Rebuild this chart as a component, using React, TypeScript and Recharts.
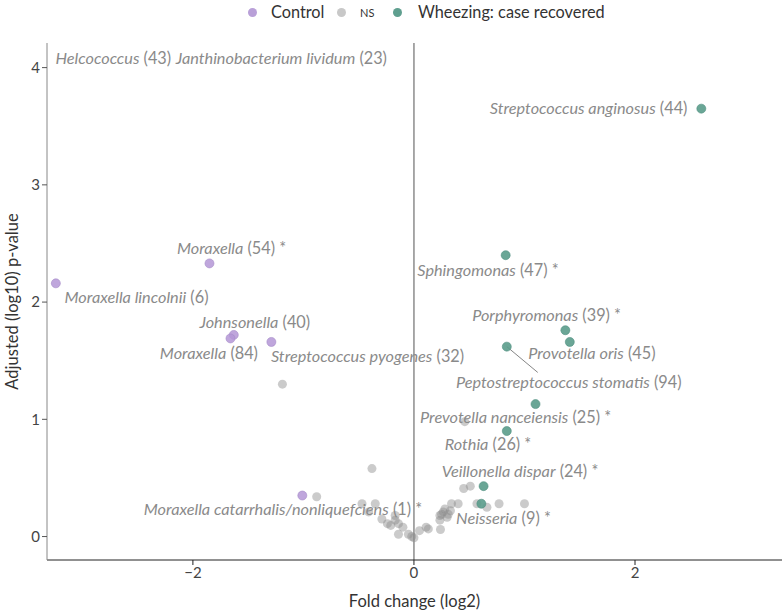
import React from 'react';
import { ScatterChart, Scatter, XAxis, YAxis, ReferenceLine } from 'recharts';

// Fold change (log2) and adjusted (log10) p-value
const controlPoints = [
  { x: -3.24, y: 2.16 },
  { x: -1.85, y: 2.33 },
  { x: -1.63, y: 1.72 },
  { x: -1.66, y: 1.69 },
  { x: -1.29, y: 1.66 },
  { x: -1.01, y: 0.35 },
];

const wheezingPoints = [
  { x: 2.6, y: 3.65 },
  { x: 0.83, y: 2.4 },
  { x: 1.37, y: 1.76 },
  { x: 1.41, y: 1.66 },
  { x: 0.84, y: 1.62 },
  { x: 1.1, y: 1.13 },
  { x: 0.84, y: 0.9 },
  { x: 0.63, y: 0.43 },
  { x: 0.61, y: 0.28 },
];

const nsPoints = [
  { x: -1.19, y: 1.3 },
  { x: -0.38, y: 0.58 },
  { x: -0.88, y: 0.34 },
  { x: 0.46, y: 0.98 },
  { x: 0.45, y: 0.41 },
  { x: 0.51, y: 0.43 },
  { x: -0.47, y: 0.28 },
  { x: -0.35, y: 0.28 },
  { x: -0.41, y: 0.21 },
  { x: -0.29, y: 0.15 },
  { x: -0.24, y: 0.11 },
  { x: -0.21, y: 0.095 },
  { x: -0.17, y: 0.18 },
  { x: -0.17, y: 0.14 },
  { x: -0.14, y: 0.11 },
  { x: -0.1, y: 0.08 },
  { x: -0.14, y: 0.02 },
  { x: -0.05, y: 0.02 },
  { x: -0.02, y: 0.0 },
  { x: 0.0, y: -0.01 },
  { x: 0.05, y: 0.05 },
  { x: 0.11, y: 0.08 },
  { x: 0.13, y: 0.065 },
  { x: 0.24, y: 0.06 },
  { x: 0.235, y: 0.14 },
  { x: 0.235, y: 0.18 },
  { x: 0.265, y: 0.21 },
  { x: 0.3, y: 0.165 },
  { x: 0.28, y: 0.235 },
  { x: 0.33, y: 0.22 },
  { x: 0.25, y: 0.19 },
  { x: 0.31, y: 0.19 },
  { x: 0.34, y: 0.28 },
  { x: 0.4, y: 0.28 },
  { x: 0.57, y: 0.28 },
  { x: 0.66, y: 0.25 },
  { x: 0.77, y: 0.28 },
  { x: 1.0, y: 0.28 },
];

const labelNames = [
  'Helcococcus', 'Janthinobacterium lividum', 'Streptococcus anginosus', 'Moraxella',
  'Moraxella lincolnii', 'Johnsonella', 'Moraxella', 'Streptococcus pyogenes',
  'Sphingomonas', 'Porphyromonas', 'Provotella oris', 'Peptostreptococcus stomatis',
  'Prevotella nanceiensis', 'Rothia', 'Veillonella dispar',
  'Moraxella catarrhalis/nonliquefciens', 'Neisseria',
];
const labelCounts = [43, 23, 44, 54, 6, 40, 84, 32, 47, 39, 45, 94, 25, 26, 24, 1, 9];
const labelStars = [false, false, false, true, false, false, false, false, true, true, false, false, true, true, true, true, true];
// label anchor positions (data coordinates, text centre)
const labelAnchorX = [-2.72, -1.2, 1.58, -1.65, -2.51, -1.44, -1.855, -0.42, 0.67, 1.2, 1.61, 1.4, 0.92, 0.67, 0.96, -1.185, 0.81];
const labelAnchorY = [4.08, 4.08, 3.65, 2.455, 2.045, 1.83, 1.56, 1.535, 2.27, 1.885, 1.56, 1.32, 1.02, 0.785, 0.555, 0.23, 0.155];

const xTicks = [-2, 0, 2];
const yTicks = [0, 1, 2, 3, 4];

const labelData = labelNames.map((n, i) => ({
  x: labelAnchorX[i],
  y: labelAnchorY[i],
  name: n,
  count: labelCounts[i],
  star: labelStars[i],
}));

const FONT = 'Lato, "Noto Sans", sans-serif';

const dot = (fill: string, opacity: number, stroke?: string) => (p: any) => (
  <circle cx={p.cx} cy={p.cy} r={4.5} fill={fill} fillOpacity={opacity} stroke={stroke || 'none'} strokeWidth={0.6} />
);

const labelShape = (p: any) => {
  const d = p.payload;
  return (
    <text x={p.cx} y={p.cy} dy="0.35em" textAnchor="middle" fill="#8a8a8a" fontSize={16.3} fontFamily={FONT}>
      <tspan fontStyle="italic">{d.name}</tspan>
      <tspan>{` (${d.count})${d.star ? ' *' : ''}`}</tspan>
    </text>
  );
};

export default function App() {
  return (
    <div style={{ position: 'absolute', left: 0, top: 0, width: 782, height: 613, background: '#fff', fontFamily: FONT }}>
      <div style={{ position: 'absolute', top: 0, left: 0, width: 782, height: 24, fontSize: 16.3, color: '#333' }}>
        <span style={{ position: 'absolute', left: 248, top: 8, width: 9, height: 9, borderRadius: 5, background: '#b9a0d8' }} />
        <span style={{ position: 'absolute', left: 271, top: 2, lineHeight: '20px' }}>Control</span>
        <span style={{ position: 'absolute', left: 337, top: 8, width: 9, height: 9, borderRadius: 5, background: '#c8c8c8' }} />
        <span style={{ position: 'absolute', left: 360, top: 5, fontSize: 11, lineHeight: '16px' }}>NS</span>
        <span style={{ position: 'absolute', left: 393, top: 8, width: 9, height: 9, borderRadius: 5, background: '#5f9f8f' }} />
        <span style={{ position: 'absolute', left: 418, top: 2, lineHeight: '20px' }}>Wheezing: case recovered</span>
      </div>
      <ScatterChart width={782} height={613} margin={{ top: 43, right: 0, bottom: 0, left: 0 }}>
        <XAxis
          type="number"
          dataKey="x"
          domain={[-3.32, 3.33]}
          allowDataOverflow
          ticks={xTicks}
          tickFormatter={(v: number) => (v < 0 ? `\u2212${Math.abs(v)}` : `${v}`)}
          height={53}
          stroke="#222"
          tickLine={{ stroke: '#222' }}
          tickSize={5}
          tick={{ fill: '#444', fontSize: 15, fontFamily: FONT }}
          label={(props: any) => {
            const vb = props.viewBox;
            return (
              <text x={vb.x + vb.width / 2} y={607} textAnchor="middle" fill="#333" fontSize={16.5} fontFamily={FONT}>
                Fold change (log2)
              </text>
            );
          }}
        />
        <YAxis
          type="number"
          dataKey="y"
          domain={[-0.2, 4.21]}
          allowDataOverflow
          ticks={yTicks}
          width={47}
          stroke="#888"
          tickLine={{ stroke: '#555' }}
          tickSize={5}
          tick={{ fill: '#444', fontSize: 15, fontFamily: FONT }}
          label={(props: any) => {
            const vb = props.viewBox;
            const cy = vb.y + vb.height / 2;
            return (
              <text x={12} y={cy} textAnchor="middle" dy="0.35em" transform={`rotate(-90, 12, ${cy})`} fill="#333" fontSize={16.5} fontFamily={FONT}>
                Adjusted (log10) p-value
              </text>
            );
          }}
        />
        <ReferenceLine x={0} stroke="#8c8c8c" strokeWidth={1.5} />
        <ReferenceLine
          segment={[{ x: 0.84, y: 1.62 }, { x: 1.12, y: 1.4 }]}
          stroke="#666"
          strokeWidth={0.8}
        />
        <Scatter data={nsPoints} isAnimationActive={false} shape={dot('#8c8c8c', 0.45)} />
        <Scatter data={controlPoints} isAnimationActive={false} shape={dot('#b497d6', 0.85, '#a58ac8')} />
        <Scatter data={wheezingPoints} isAnimationActive={false} shape={dot('#5a9c8b', 0.9, '#4f8f7f')} />
        <Scatter data={labelData} isAnimationActive={false} shape={labelShape} />
      </ScatterChart>
    </div>
  );
}
